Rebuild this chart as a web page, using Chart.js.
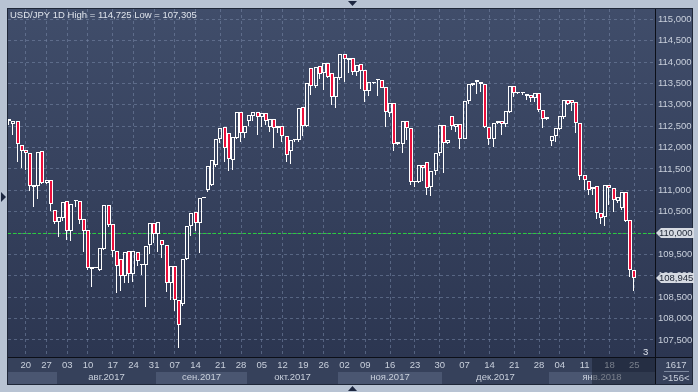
<!DOCTYPE html>
<html>
<head>
<meta charset="utf-8">
<script src="https://cdn.jsdelivr.net/npm/chart.js@4.4.1/dist/chart.umd.min.js"></script>
<style>
html, body { margin: 0; padding: 0; background: #b8c3d3; }
canvas { display: block; }
</style>
</head>
<body>
<canvas class="myChart" width="698" height="392"></canvas>
<script>
// USD/JPY daily candles, one entry per bar (left to right)
var opens = [
  112.62, 112.56, 112.62, 112.06, 111.94, 111.88, 111.07, 111.10, 111.92, 111.16,
  111.24, 110.54, 110.26, 110.36, 110.76, 110.04, 110.76, 110.76, 110.32, 110.06,
  109.17, 109.19, 109.13, 109.63, 110.66, 110.21, 109.57, 109.39, 108.99, 109.57,
  109.05, 109.56, 109.25, 109.26, 109.73, 110.23, 109.98, 109.84, 109.73, 108.82,
  109.24, 108.44, 108.34, 109.39, 110.17, 110.49, 110.23, 110.83, 111.01, 111.13,
  111.60, 112.20, 112.48, 112.34, 111.70, 112.23, 112.83, 112.35, 112.61, 112.74,
  112.83, 112.72, 112.80, 112.48, 112.66, 112.45, 112.51, 112.27, 111.91, 112.17,
  112.18, 112.94, 112.51, 113.86, 113.43, 113.91, 113.74, 113.97, 113.74, 113.17,
  113.62, 114.19, 114.04, 114.09, 113.76, 113.95, 113.81, 113.33, 113.51, 113.57,
  113.58, 113.42, 112.80, 113.04, 112.08, 112.08, 112.61, 112.45, 111.19, 111.19,
  111.58, 111.66, 111.07, 111.46, 111.87, 112.53, 112.10, 112.74, 112.49, 112.55,
  112.20, 113.09, 113.46, 113.58, 113.54, 113.48, 112.49, 112.20, 112.57, 112.62,
  112.55, 112.84, 113.43, 113.27, 113.27, 113.20, 113.23, 113.15, 113.27, 112.88,
  112.66, 112.16, 112.26, 112.43, 112.72, 113.11, 113.11, 113.07, 112.58, 111.36,
  111.22, 111.03, 111.11, 110.47, 110.37, 111.13, 111.05, 110.76, 110.58, 110.96,
  110.31, 109.14
];
var highs = [
  113.27, 112.86, 112.69, 112.23, 112.41, 112.10, 111.31, 111.97, 112.20, 111.71,
  111.34, 110.78, 110.57, 110.99, 110.86, 111.04, 110.92, 110.82, 110.33, 110.08,
  109.42, 109.20, 109.80, 110.85, 110.95, 110.39, 109.61, 109.53, 109.66, 109.80,
  109.63, 109.69, 109.42, 109.92, 110.40, 110.66, 110.50, 109.90, 109.78, 109.39,
  109.28, 108.50, 109.49, 110.27, 110.66, 111.03, 111.34, 110.85, 111.67, 112.20,
  112.53, 112.69, 112.55, 112.45, 112.27, 113.25, 113.23, 112.74, 112.93, 113.03,
  112.92, 112.99, 113.44, 112.79, 112.70, 112.57, 112.53, 112.30, 112.27, 112.49,
  113.04, 113.13, 113.57, 114.09, 114.01, 114.13, 114.09, 114.44, 113.84, 113.68,
  114.28, 114.26, 114.42, 114.73, 114.32, 114.05, 114.07, 113.62, 113.56, 113.76,
  113.91, 113.46, 113.07, 113.06, 112.13, 112.72, 112.69, 112.47, 111.38, 111.61,
  111.66, 111.71, 111.53, 112.16, 112.65, 112.90, 112.20, 113.09, 112.90, 112.61,
  113.15, 113.58, 113.52, 113.70, 113.74, 113.50, 112.57, 112.62, 112.65, 112.84,
  113.09, 113.48, 113.66, 113.55, 113.40, 113.35, 113.27, 113.36, 113.31, 112.97,
  112.72, 112.37, 112.61, 112.86, 113.31, 113.15, 113.39, 113.19, 112.79, 111.88,
  111.69, 111.11, 111.17, 111.01, 111.25, 111.48, 111.11, 110.89, 111.21, 111.17,
  110.35, 109.47
];
var lows = [
  112.53, 112.30, 111.67, 111.53, 111.48, 110.99, 110.60, 110.80, 111.15, 111.15,
  110.52, 110.21, 109.90, 110.29, 109.84, 109.82, 110.60, 110.21, 109.55, 109.14,
  108.73, 109.18, 109.10, 109.61, 110.15, 109.43, 108.60, 108.64, 108.83, 108.83,
  108.85, 109.22, 109.01, 108.27, 109.52, 109.77, 109.55, 109.42, 108.61, 108.43,
  108.17, 107.31, 108.30, 109.38, 109.92, 110.04, 109.53, 110.82, 110.97, 111.09,
  111.55, 112.10, 111.65, 111.46, 111.48, 112.20, 112.14, 112.22, 112.51, 112.63,
  112.30, 112.48, 112.53, 112.37, 111.99, 112.34, 112.14, 111.65, 111.62, 112.14,
  112.12, 112.27, 112.49, 113.23, 113.39, 113.60, 113.35, 113.62, 112.99, 112.93,
  113.58, 113.53, 113.74, 113.70, 113.68, 113.37, 113.07, 113.21, 113.48, 113.21,
  113.39, 112.47, 112.72, 111.92, 112.07, 111.87, 112.18, 111.13, 111.07, 111.17,
  111.21, 110.88, 110.86, 111.36, 111.79, 111.40, 112.08, 112.41, 112.37, 111.97,
  112.19, 113.01, 113.44, 113.25, 113.31, 112.45, 112.06, 112.02, 112.55, 112.30,
  112.47, 112.80, 113.19, 113.25, 113.24, 113.10, 113.07, 113.07, 112.84, 112.45,
  112.65, 112.04, 112.14, 112.41, 112.67, 112.99, 112.86, 112.35, 111.25, 111.01,
  110.89, 110.89, 110.33, 110.22, 110.17, 110.66, 110.48, 110.71, 110.53, 110.25,
  108.97, 108.64
];
var closes = [
  112.66, 112.62, 112.08, 111.93, 111.88, 111.09, 111.13, 111.89, 111.17, 111.24,
  110.68, 110.26, 110.37, 110.72, 110.04, 110.68, 110.78, 110.31, 110.04, 109.18,
  109.21, 109.19, 109.65, 110.66, 110.19, 109.57, 109.22, 108.99, 109.55, 109.05,
  109.57, 109.35, 109.28, 109.70, 110.23, 109.98, 110.25, 109.73, 108.82, 109.24,
  108.43, 107.86, 109.39, 110.17, 110.47, 110.23, 110.82, 110.84, 111.56, 111.70,
  112.20, 112.45, 111.99, 111.73, 112.24, 112.83, 112.35, 112.51, 112.76, 112.83,
  112.72, 112.80, 112.61, 112.66, 112.45, 112.51, 112.26, 111.83, 112.18, 112.20,
  112.92, 112.51, 113.52, 113.43, 113.88, 113.72, 113.97, 113.66, 113.19, 113.64,
  114.19, 114.07, 114.09, 113.76, 113.92, 113.80, 113.33, 113.53, 113.53, 113.58,
  113.40, 112.83, 113.04, 112.08, 112.12, 112.61, 112.45, 111.19, 111.22, 111.58,
  111.52, 111.05, 111.46, 111.87, 112.53, 112.10, 112.18, 112.51, 112.55, 112.20,
  113.09, 113.48, 113.50, 113.53, 113.48, 112.49, 112.20, 112.57, 112.62, 112.55,
  112.86, 113.43, 113.27, 113.28, 113.28, 113.25, 113.15, 113.27, 112.88, 112.66,
  112.71, 112.27, 112.45, 112.74, 113.11, 113.02, 113.05, 112.58, 111.34, 111.23,
  111.01, 111.07, 110.47, 110.36, 111.13, 111.05, 110.78, 110.84, 110.96, 110.29,
  109.13, 108.95
];

// weekly date ticks: bar index and text
var tickIdx = [4, 9, 14, 19, 25, 30, 35, 40, 45, 51, 56, 61, 66, 71, 76, 81, 86, 92, 98, 104, 110, 116, 122, 128, 133, 139, 145, 151];
var tickText = ['20', '27', '03', '10', '17', '24', '31', '07', '14', '21', '28', '05', '12', '19', '26', '02', '09', '16', '23', '30', '07', '14', '21', '28', '04', '11', '18', '25'];
// month bands: start positions (in bar units) and names
var monthStart = [-0.31, 11.5, 35.5, 57.5, 79.5, 104.5, 130.5];
var monthName = ['', 'авг.2017', 'сен.2017', 'окт.2017', 'ноя.2017', 'дек.2017', 'янв.2018'];
var yTicks = [107.5, 108, 108.5, 109, 109.5, 110, 110.5, 111, 111.5, 112, 112.5, 113, 113.5, 114, 114.5, 115];
var levelPrice = 110.000;
var lastPrice = 108.945;

var FONT = '"Liberation Sans", Arial, sans-serif';
var TXT = '#c9d0dc';
var GRID = 'rgba(120,136,168,0.55)';
var RED = '#ec0f3b';

var upperWick = [], lowerWick = [], bodies = [];
for (var i = 0; i < opens.length; i++) {
    var top = Math.max(opens[i], closes[i]);
    var bot = Math.min(opens[i], closes[i]);
    upperWick.push({ x: i, y: [top, highs[i]] });
    lowerWick.push({ x: i, y: [lows[i], bot] });
    bodies.push({ x: i, y: [opens[i], closes[i]] });
}

function fmt(v) {
    return v.toFixed(3).replace('.', ',');
}

function priceTag(ctx, y, text) {
    ctx.fillStyle = '#d6dae2';
    ctx.beginPath();
    ctx.moveTo(656, y);
    ctx.lineTo(661, y - 5);
    ctx.lineTo(694, y - 5);
    ctx.lineTo(694, y + 5);
    ctx.lineTo(661, y + 5);
    ctx.closePath();
    ctx.fill();
    ctx.fillStyle = '#1c2434';
    ctx.font = '9.5px ' + FONT;
    ctx.textAlign = 'left';
    ctx.textBaseline = 'middle';
    ctx.fillText(text, 659, y + 0.5);
}

function tri(ctx, pts) {
    ctx.fillStyle = '#1d2740';
    ctx.beginPath();
    ctx.moveTo(pts[0], pts[1]);
    ctx.lineTo(pts[2], pts[3]);
    ctx.lineTo(pts[4], pts[5]);
    ctx.closePath();
    ctx.fill();
}

var terminalLook = {
    id: 'terminalLook',
    beforeDraw: function (chart) {
        var ctx = chart.ctx, a = chart.chartArea, xs = chart.scales.x;
        ctx.save();
        ctx.fillStyle = '#b8c3d3';
        ctx.fillRect(0, 0, 698, 392);
        ctx.fillStyle = '#1f2738';
        ctx.fillRect(7, 8, 686, 377);
        var g = ctx.createLinearGradient(0, a.top, 0, a.bottom);
        g.addColorStop(0, '#404d6a');
        g.addColorStop(1, '#2c3651');
        ctx.fillStyle = g;
        ctx.fillRect(a.left, a.top, 692 - a.left, a.bottom - a.top);
        // date axis panel
        ctx.fillStyle = '#36415b';
        ctx.fillRect(a.left, a.bottom, 692 - a.left, 384 - a.bottom);
        for (var m = 0; m < monthStart.length; m++) {
            var x0 = Math.max(a.left, Math.round(xs.getPixelForValue(monthStart[m])));
            var x1 = m + 1 < monthStart.length ? Math.round(xs.getPixelForValue(monthStart[m + 1])) : a.right;
            if (m % 2 === 0) {
                ctx.fillStyle = '#4a5671';
                ctx.fillRect(x0, 372, x1 - x0, 12);
            }
            if (monthName[m]) {
                ctx.fillStyle = TXT;
                ctx.font = '9.5px ' + FONT;
                ctx.textAlign = 'center';
                ctx.textBaseline = 'middle';
                ctx.fillText(monthName[m], (x0 + x1) / 2, 377.5);
            }
        }
        ctx.restore();
    },
    beforeDatasetsDraw: function (chart) {
        var ctx = chart.ctx, a = chart.chartArea;
        var y = Math.round(chart.scales.y.getPixelForValue(levelPrice)) + 0.5;
        ctx.save();
        ctx.strokeStyle = '#27d23a';
        ctx.lineWidth = 1;
        ctx.setLineDash([3, 2]);
        ctx.beginPath();
        ctx.moveTo(a.left, y);
        ctx.lineTo(a.right, y);
        ctx.stroke();
        ctx.restore();
        // snap bars to whole pixels so the thin candles stay crisp
        chart.data.datasets.forEach(function (ds, k) {
            chart.getDatasetMeta(k).data.forEach(function (el) {
                el.x = k === 2 ? Math.round(el.x) : Math.round(el.x) - 0.5;
                el.y = Math.round(el.y);
                el.base = Math.round(el.base);
                if (k === 2 && el.base === el.y) el.base = el.y + 1;
            });
        });
    },
    afterDraw: function (chart) {
        var ctx = chart.ctx, a = chart.chartArea, xs = chart.scales.x, ys = chart.scales.y;
        ctx.save();
        // dimmed tail of the date axis
        var xd = Math.round(xs.getPixelForValue(140.8));
        ctx.fillStyle = 'rgba(18,24,38,0.45)';
        ctx.fillRect(xd, a.bottom + 1, a.right - xd, 384 - a.bottom - 1);
        // separators
        ctx.strokeStyle = '#0c0f18';
        ctx.lineWidth = 1;
        ctx.beginPath();
        ctx.moveTo(a.right + 0.5, a.top);
        ctx.lineTo(a.right + 0.5, 384);
        ctx.moveTo(a.left, a.bottom + 0.5);
        ctx.lineTo(692, a.bottom + 0.5);
        ctx.stroke();
        // title
        ctx.fillStyle = '#dfe4ec';
        ctx.font = '9.5px ' + FONT;
        ctx.textAlign = 'left';
        ctx.textBaseline = 'middle';
        ctx.fillText('USD/JPY 1D High = 114,725 Low = 107,305', 10, 15);
        ctx.fillText('3', 643, 352);
        // price tags
        priceTag(ctx, Math.round(ys.getPixelForValue(levelPrice)), fmt(levelPrice));
        priceTag(ctx, Math.round(ys.getPixelForValue(lastPrice)), fmt(lastPrice));
        // corner box
        ctx.fillStyle = TXT;
        ctx.font = '9.5px ' + FONT;
        ctx.textAlign = 'center';
        ctx.fillText('1617', 676, 365);
        ctx.fillText('>156<', 676, 378.5);
        ctx.strokeStyle = '#7c889e';
        ctx.beginPath();
        ctx.moveTo(664, 371.5);
        ctx.lineTo(689, 371.5);
        ctx.stroke();
        // frame markers
        tri(ctx, [348, 1, 357, 1, 352.5, 6]);
        tri(ctx, [348, 391, 357, 391, 352.5, 386]);
        tri(ctx, [1, 192, 1, 202, 6, 197]);
        ctx.restore();
    }
};

var ctx = document.getElementsByClassName('myChart')[0].getContext('2d');
var chart = new Chart(ctx, {
    type: 'bar',
    data: {
        datasets: [{
            label: 'upper wick',
            data: upperWick,
            backgroundColor: '#ffffff',
            barThickness: 1,
            grouped: false,
            inflateAmount: 0
        }, {
            label: 'lower wick',
            data: lowerWick,
            backgroundColor: '#ffffff',
            barThickness: 1,
            grouped: false,
            inflateAmount: 0
        }, {
            label: 'body',
            data: bodies,
            backgroundColor: function (c) {
                return closes[c.dataIndex] < opens[c.dataIndex] ? RED : 'rgba(0,0,0,0)';
            },
            borderColor: '#ffffff',
            borderWidth: 1,
            borderSkipped: false,
            barThickness: 4,
            minBarLength: 1,
            grouped: false,
            inflateAmount: 0
        }]
    },
    options: {
        responsive: false,
        animation: false,
        layout: { padding: { left: 8, right: 6, top: 9, bottom: 8 } },
        plugins: {
            legend: { display: false },
            tooltip: { enabled: false }
        },
        scales: {
            x: {
                type: 'linear',
                min: -0.31,
                max: 156,
                offset: false,
                afterBuildTicks: function (axis) {
                    axis.ticks = tickIdx.map(function (v) { return { value: v }; });
                },
                afterFit: function (s) { s.height = 27; },
                grid: { color: GRID, drawTicks: false, lineWidth: 1, offset: false },
                border: { display: false, dash: [3, 3] },
                ticks: {
                    autoSkip: false,
                    maxRotation: 0,
                    padding: 3,
                    color: TXT,
                    font: { family: FONT, size: 9.5 },
                    callback: function (v, i) { return tickText[i]; }
                }
            },
            y: {
                position: 'right',
                min: 107.10,
                max: 115.24,
                afterBuildTicks: function (axis) {
                    axis.ticks = yTicks.map(function (v) { return { value: v }; });
                },
                afterFit: function (s) { s.width = 37; },
                grid: { color: GRID, drawTicks: false, lineWidth: 1 },
                border: { display: false, dash: [3, 3] },
                ticks: {
                    padding: 3,
                    color: TXT,
                    font: { family: FONT, size: 9.5 },
                    callback: function (v) { return fmt(v); }
                }
            }
        }
    },
    plugins: [terminalLook]
});
</script>
</body>
</html>
